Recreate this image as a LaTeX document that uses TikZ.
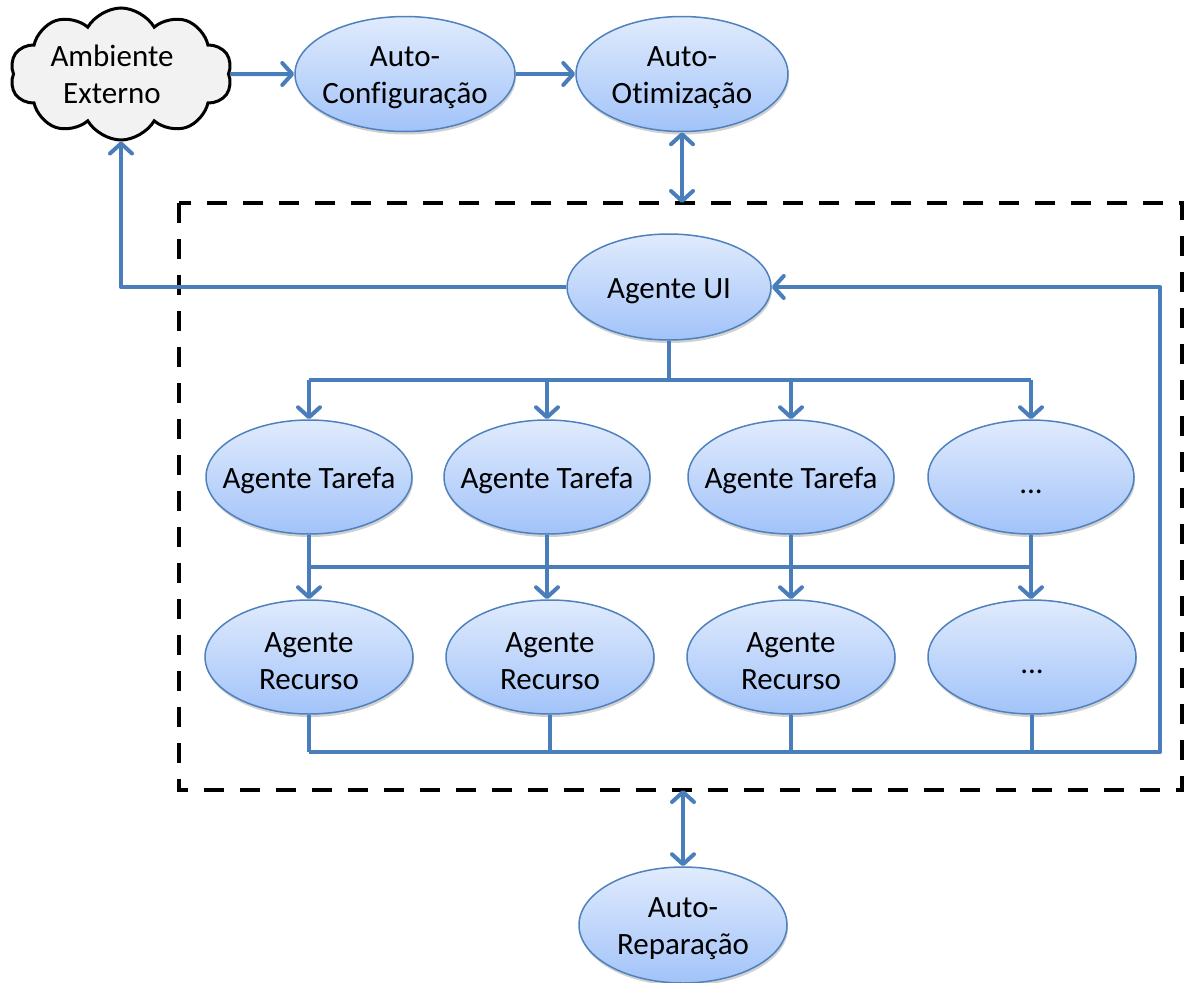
\documentclass[tikz,border=0pt]{standalone}
\usepackage{fontspec}
\setmainfont{Carlito}[Ligatures=CommonOff]
\usetikzlibrary{shapes.geometric,shapes.symbols,arrows.meta,shadows}

\definecolor{linkblue}{RGB}{74,126,187}
\definecolor{rimblue}{RGB}{79,129,189}
\definecolor{shadetop}{RGB}{224,235,253}
\definecolor{shadebot}{RGB}{162,195,249}
\definecolor{cloudgray}{RGB}{242,242,242}

\newcommand\diagfont{\fontsize{31}{37}\selectfont}

\tikzset{
  agent/.style={ellipse, draw=rimblue, line width=1.5pt,
    top color=shadetop, bottom color=shadebot, inner sep=0pt,
    minimum width=206pt, minimum height=114pt,
    general shadow={fill=black, opacity=0.18, shadow yshift=-3pt, shadow xshift=1pt}},
  tag/.style={font=\diagfont, align=center, text=black, inner sep=0pt, yshift=-4pt},
  more/.style={tag, yshift=-5pt},
  link/.style={draw=linkblue, line width=4pt, line join=round},
  arr/.style={link, -{Straight Barb[length=10pt,width=22pt,round]}},
  biarr/.style={link, {Straight Barb[length=10pt,width=22pt,round]}-{Straight Barb[length=10pt,width=22pt,round]}},
  boxline/.style={draw=black, line width=4pt, dash pattern=on 20pt off 16pt},
  env/.style={cloud, cloud puffs=10, cloud puff arc=120, aspect=1.7,
    draw=black, line width=3pt, fill=cloudgray, inner sep=0pt,
    minimum width=222pt, minimum height=132pt},
}

\begin{document}
\begin{tikzpicture}[x=1pt, y=-1pt]
  \useasboundingbox (0,0) rectangle (1184,983);

  % dashed frame around the agent society
  \coordinate (boxnw) at (179,203);
  \coordinate (boxse) at (1182,790);
  \draw[boxline] (boxnw) rectangle (boxse);

  % environment and self-* properties
  \node[env, label={[tag, xshift=-9pt, yshift=4pt]center:Ambiente\\Externo}] (amb) at (121,74) {};
  \node[agent, minimum width=220pt, minimum height=115pt,
        label={[tag]center:Auto-\\Configuração}] (cfg) at (405,74) {};
  \node[agent, minimum width=212pt, minimum height=115pt,
        label={[tag]center:Auto-\\Otimização}] (otm) at (682,74) {};
  \node[agent, minimum width=208pt, minimum height=116pt,
        label={[tag]center:Auto-\\Reparação}] (rep) at (683,925) {};

  % agents
  \node[agent, minimum width=204pt, minimum height=106pt,
        label={[tag]center:Agente UI}] (ui) at (669,287) {};

  \node[agent, label={[tag]center:Agente Tarefa}] (t1) at (309,477) {};
  \node[agent, label={[tag]center:Agente Tarefa}] (t2) at (547,477) {};
  \node[agent, label={[tag]center:Agente Tarefa}] (t3) at (791,477) {};
  \node[agent, label={[more]center:\vphantom{Ag}...}] (t4) at (1031,477) {};

  \node[agent, minimum width=208pt, label={[tag]center:Agente\\Recurso}] (r1) at (309,657) {};
  \node[agent, minimum width=208pt, label={[tag]center:Agente\\Recurso}] (r2) at (550,657) {};
  \node[agent, minimum width=208pt, label={[tag]center:Agente\\Recurso}] (r3) at (791,657) {};
  \node[agent, minimum width=208pt, label={[more]center:\vphantom{Ag}...}] (r4) at (1032,657) {};

  % bus lines
  \coordinate (topbus) at (669,380);
  \coordinate (midbus) at (669,567);
  \coordinate (botbus) at (1160,752);

  % top row of flows
  \draw[arr] (amb.east) -- (cfg.west);
  \draw[arr] (cfg.east) -- (otm.west);
  \draw[biarr] (otm.south) -- (otm.south |- boxnw);
  \draw[biarr] (rep.north) -- (rep.north |- boxse);

  % Agente UI back to the environment
  \draw[arr] (ui.west) -| (amb.south);

  % Agente UI to the task agents
  \draw[link] (ui.south) -- (topbus);
  \draw[link] (t1.north |- topbus) -- (t4.north |- topbus);
  \foreach \t in {t1,t2,t3,t4}
    \draw[arr] (\t.north |- topbus) -- (\t.north);

  % task agents to resource agents
  \draw[link] (t1.south |- midbus) -- (t4.south |- midbus);
  \draw[arr] (t1.south) -- (t1.south |- r1.north);
  \draw[arr] (t2.south) -- (t2.south |- r2.north);
  \draw[arr] (t3.south) -- (t3.south |- r3.north);
  \draw[arr] (t4.south) -- (t4.south |- r4.north);

  % resource agents back to Agente UI
  \foreach \r in {r1,r2,r3,r4}
    \draw[link] (\r.south) -- (\r.south |- botbus);
  \draw[arr] (r1.south |- botbus) -- (botbus) -- (botbus |- ui.east) -- (ui.east);
\end{tikzpicture}
\end{document}
